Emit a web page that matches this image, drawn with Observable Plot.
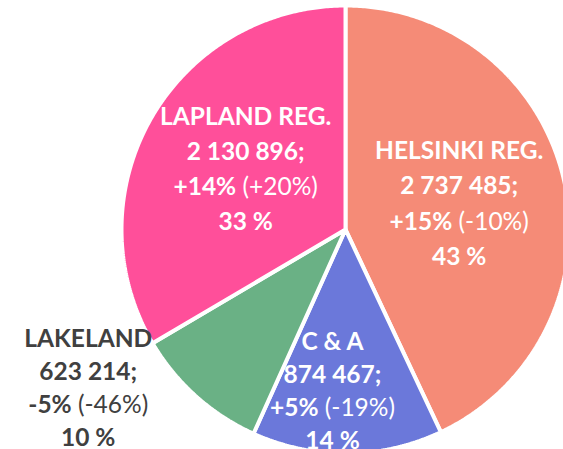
<!DOCTYPE html>
<html><head><meta charset="utf-8">
<script src="https://cdn.jsdelivr.net/npm/d3@7"></script>
<script src="https://cdn.jsdelivr.net/npm/@observablehq/plot@0.6"></script>
<style>
html,body{margin:0;padding:0;background:#fff;}
#chart{width:563px;height:449px;overflow:hidden;}
</style>
</head><body><div id="chart"></div>
<script>
const regions = ["HELSINKI REG.", "C & A", "LAKELAND", "LAPLAND REG."];
const populations = [2737485, 874467, 623214, 2130896];
const changeA = [15, 5, -5, 14];
const changeB = [-10, -19, -46, 20];
const colors = ["#F58B77", "#6B78DA", "#6AB185", "#FF4F9A"];
const textColors = ["#ffffff", "#ffffff", "#404040", "#ffffff"];

// layout (style) parameters
const W = 563, H = 449, CX = 345, CY = 229, R = 224;
const labelAngle = [null, 184.6, 238.3, 301];   // null = slice mid angle
const labelRadius = [0.52, 0.725, 1.35, 0.52];
const lineHeights = [35.5, 33, 33, 35];
const FS = 24.5, FONT = "Lato";

const total = d3.sum(populations);
const fmtNum = v => d3.format(",")(v).replace(/,/g, " ");
const fmtSign = v => (v > 0 ? "+" : v < 0 ? "-" : "") + Math.abs(v) + "%";

// slices as polygons
const polys = [];
let cum = 0;
const slices = regions.map((r, i) => {
  const a0 = cum / total * 2 * Math.PI;
  cum += populations[i];
  const a1 = cum / total * 2 * Math.PI;
  return {region: r, a0, a1, i};
});
for (const s of slices) {
  polys.push({region: s.region, u: 0, v: 0});
  const n = Math.max(2, Math.ceil((s.a1 - s.a0) / (Math.PI / 360)));
  for (let k = 0; k <= n; k++) {
    const a = s.a0 + (s.a1 - s.a0) * k / n;
    polys.push({region: s.region, u: Math.sin(a), v: Math.cos(a)});
  }
  polys.push({region: s.region, u: 0, v: 0});
}

// label text rows
const ctx = document.createElement("canvas").getContext("2d");
const measure = (t, bold) => { ctx.font = (bold ? "bold " : "") + FS + "px " + FONT; return ctx.measureText(t).width; };
const rows = [];
for (const s of slices) {
  const i = s.i;
  const ang = (labelAngle[i] == null ? (s.a0 + s.a1) / 2 * 180 / Math.PI : labelAngle[i]) * Math.PI / 180;
  const lu = Math.sin(ang) * labelRadius[i], lv = Math.cos(ang) * labelRadius[i];
  const lines = [regions[i], fmtNum(populations[i]) + ";", null, Math.round(populations[i] / total * 100) + " %"];
  lines.forEach((t, k) => {
    const v = lv - (k - 1.5) * lineHeights[i] / R;
    if (t !== null) {
      rows.push({text: t, u: lu, v, anchor: "middle", bold: true, color: textColors[i]});
    } else {
      const b = fmtSign(changeA[i]), nrm = "(" + fmtSign(changeB[i]) + ")";
      const wb = measure(b, true), sp = measure(" ", false), wn = measure(nrm, false);
      const left = -(wb + sp + wn) / 2;
      rows.push({text: b, u: lu + left / R, v, anchor: "start", bold: true, color: textColors[i]});
      rows.push({text: nrm, u: lu + (left + wb + sp) / R, v, anchor: "start", bold: false, color: textColors[i]});
    }
  });
}

const textMark = (filterFn, anchor, weight) => Plot.text(rows.filter(filterFn), {
  x: "u", y: "v", text: "text", fill: "color", textAnchor: anchor,
  lineAnchor: "middle", fontSize: FS, fontWeight: weight, fontFamily: FONT
});

const plot = Plot.plot({
  width: W, height: H,
  margin: 0,
  x: {domain: [-CX / R, (W - CX) / R], axis: null},
  y: {domain: [-(H - CY) / R, CY / R], axis: null},
  color: {domain: regions, range: colors},
  style: {background: "white"},
  marks: [
    Plot.line(polys, {x: "u", y: "v", z: "region", fill: "region", stroke: "white", strokeWidth: 4, curve: "linear", strokeLinejoin: "miter"}),
    textMark(d => d.anchor === "middle", "middle", "bold"),
    textMark(d => d.anchor === "start" && d.bold, "start", "bold"),
    textMark(d => d.anchor === "start" && !d.bold, "start", "normal")
  ]
});
document.getElementById("chart").appendChild(plot);
</script>
</body></html>
